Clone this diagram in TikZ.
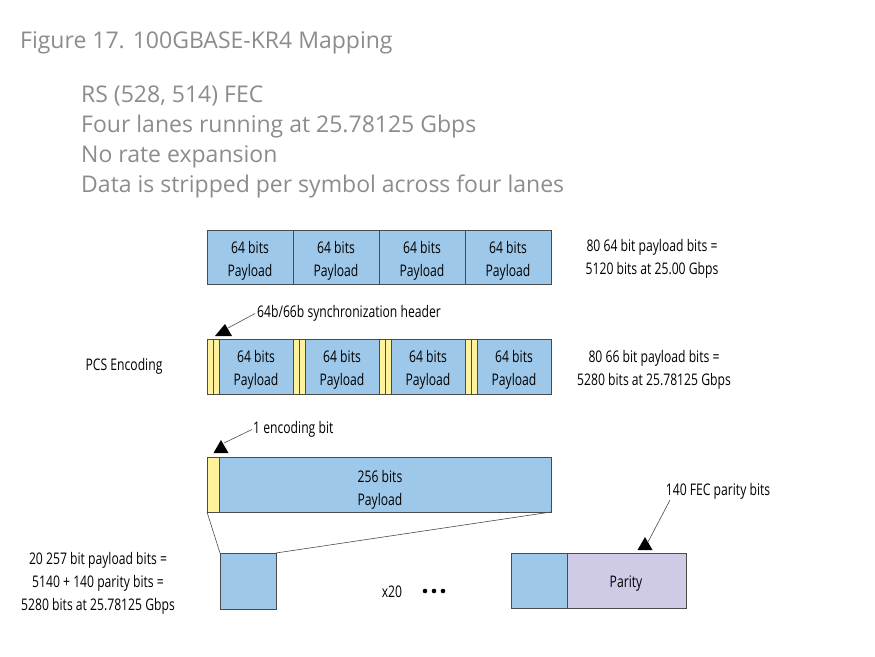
\documentclass[tikz,border=0pt]{standalone}
\usepackage{fontspec}
\setmainfont{Open Sans}
\newfontfamily\labfont{Open Sans}[FakeStretch=0.76]
\definecolor{pay}{HTML}{9DC8EA}
\definecolor{hdr}{HTML}{FFF29C}
\definecolor{par}{HTML}{CFCBE6}
\definecolor{edge}{HTML}{4A4A4A}
\definecolor{ttl}{HTML}{8C8C8C}
\begin{document}
\begin{tikzpicture}[x=1pt,y=-1pt,
  lab/.style={font=\labfont\fontsize{16}{23}\selectfont, text=black, align=center, inner sep=0pt, yshift=-2.5pt},
  paybox/.style={draw=edge, fill=pay, line width=0.8pt},
  hdrbox/.style={draw=edge, fill=hdr, line width=0.8pt},
  parbox/.style={draw=edge, fill=par, line width=0.8pt},
  lead/.style={draw=edge, line width=0.6pt},
  tri/.style={fill=black}
]
\useasboundingbox (0,0) rectangle (875,656);
% Title
\node[anchor=west, text=ttl, font=\fontsize{23}{26}\selectfont, inner sep=0pt] (title) at (20,43) {Figure 17. 100GBASE-KR4 Mapping};
\node[anchor=north west, text=ttl, font=\fontsize{23}{30}\selectfont, align=left, inner sep=0pt] (sub) at (81,86)
  {RS (528, 514) FEC\\Four lanes running at 25.78125 Gbps\\No rate expansion\\Data is stripped per symbol across four lanes};

% Row 1
\foreach \a/\b/\n in {207/293/a1,293/379/a2,379/465/a3,465/551/a4}{
  \draw[paybox] (\a,230) rectangle (\b,284);
  \node[lab] (\n) at ({(\a+\b)/2},258) {64 bits\\Payload};
}
\node[lab] (r1) at (652,256) {80 64 bit payload bits =\\5120 bits at 25.00 Gbps};

% Row 2
\foreach \a/\b/\n in {207/293/b1,293/379/b2,379/465/b3,465/551/b4}{
  \draw[paybox] (\a,339) rectangle (\b,394);
  \draw[hdrbox] (\a,339) rectangle (\a+6,394);
  \draw[hdrbox] (\a+6,339) rectangle (\a+12,394);
  \node[lab] (\n) at ({(\a+12+\b)/2},367) {64 bits\\Payload};
}
\node[lab] (pcs) at (124,364) {PCS Encoding};
\node[lab] (r2) at (654,367) {80 66 bit payload bits =\\5280 bits at 25.78125 Gbps};
\node[lab, anchor=west] (synch) at (257,311) {64b/66b synchronization header};
\coordinate (t1) at (225,324);
\fill[tri] (t1) -- (232,336) -- (215,336) -- cycle;
\draw[lead] (228,328) -- ([xshift=-2pt]synch.west);

% Row 3
\draw[paybox] (207,457) rectangle (551,512);
\draw[hdrbox] (207,457) rectangle (219,512);
\node[lab] (c1) at (380,487) {256 bits\\Payload};
\node[lab, anchor=west] (enc) at (253,427) {1 encoding bit};
\coordinate (t2) at (221,440);
\fill[tri] (t2) -- (228.5,453) -- (213.5,453) -- cycle;
\draw[lead] (224,443) -- ([xshift=-1pt]enc.west);

% Row 4
\draw[paybox] (220,553) rectangle (276,609);
\draw[lead] (207,512) -- (220,553);
\draw[lead] (551,512) -- (276,553);
\node[lab] (l4) at (98,581) {20 257 bit payload bits =\\5140 + 140 parity bits =\\5280 bits at 25.78125 Gbps};
\node[lab] (x20) at (392,589) {x20};
\foreach \x in {425,434,443} \fill (\x,591) circle (2.3);
\draw[paybox] (511,553) rectangle (567,608);
\draw[parbox] (567,553) rectangle (686,608);
\node[lab] (parity) at (626,581) {Parity};
\node[lab] (fec) at (718,489) {140 FEC parity bits};
\coordinate (t3) at (645,537);
\fill[tri] (t3) -- (652.5,550) -- (637.5,550) -- cycle;
\draw[lead] (648,542) -- (670,500);
\end{tikzpicture}
\end{document}
